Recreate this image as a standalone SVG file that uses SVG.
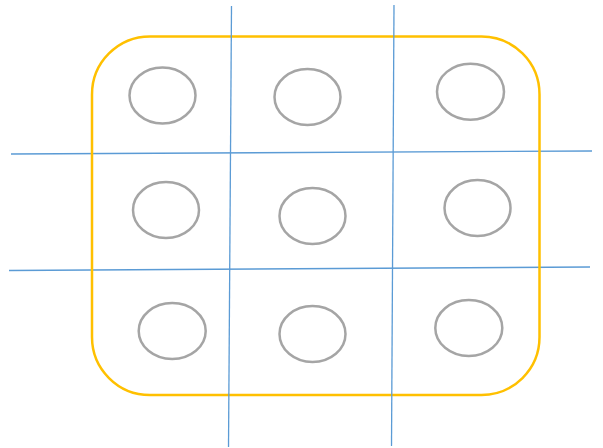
<svg xmlns="http://www.w3.org/2000/svg" width="603" height="448" viewBox="0 0 603 448">
<style>
.frame{fill:none;stroke:#FFC000;stroke-width:2.5}
.grid{stroke:#5B9BD5;stroke-width:1.3;fill:none}
.cell{fill:none;stroke:#A5A5A5;stroke-width:2.5}
</style>
<rect width="603" height="448" fill="#ffffff"/>
<g id="connectors-h">
<line class="grid" x1="11" y1="154" x2="592" y2="151"/>
<line class="grid" x1="9" y1="270.5" x2="590" y2="267"/>
</g>
<g id="frame">
<rect class="frame" x="92" y="36.5" width="447.5" height="358.5" rx="58" ry="58"/>
</g>
<g id="connectors-v">
<line class="grid" x1="231.5" y1="6" x2="228.5" y2="447"/>
<line class="grid" x1="394" y1="5" x2="391.5" y2="446"/>
</g>
<g id="n1"><ellipse class="cell" cx="162.5" cy="95.5" rx="33" ry="28"/></g>
<g id="n2"><ellipse class="cell" cx="307.5" cy="97" rx="33" ry="28"/></g>
<g id="n3"><ellipse class="cell" cx="470.5" cy="91.7" rx="33.5" ry="28"/></g>
<g id="n4"><ellipse class="cell" cx="166" cy="210" rx="33" ry="28"/></g>
<g id="n5"><ellipse class="cell" cx="312.5" cy="216" rx="33" ry="28"/></g>
<g id="n6"><ellipse class="cell" cx="477.5" cy="208" rx="33" ry="28"/></g>
<g id="n7"><ellipse class="cell" cx="172.2" cy="331" rx="33.5" ry="28"/></g>
<g id="n8"><ellipse class="cell" cx="312.5" cy="334" rx="33" ry="28"/></g>
<g id="n9"><ellipse class="cell" cx="468.8" cy="328" rx="33.5" ry="28"/></g>
</svg>
